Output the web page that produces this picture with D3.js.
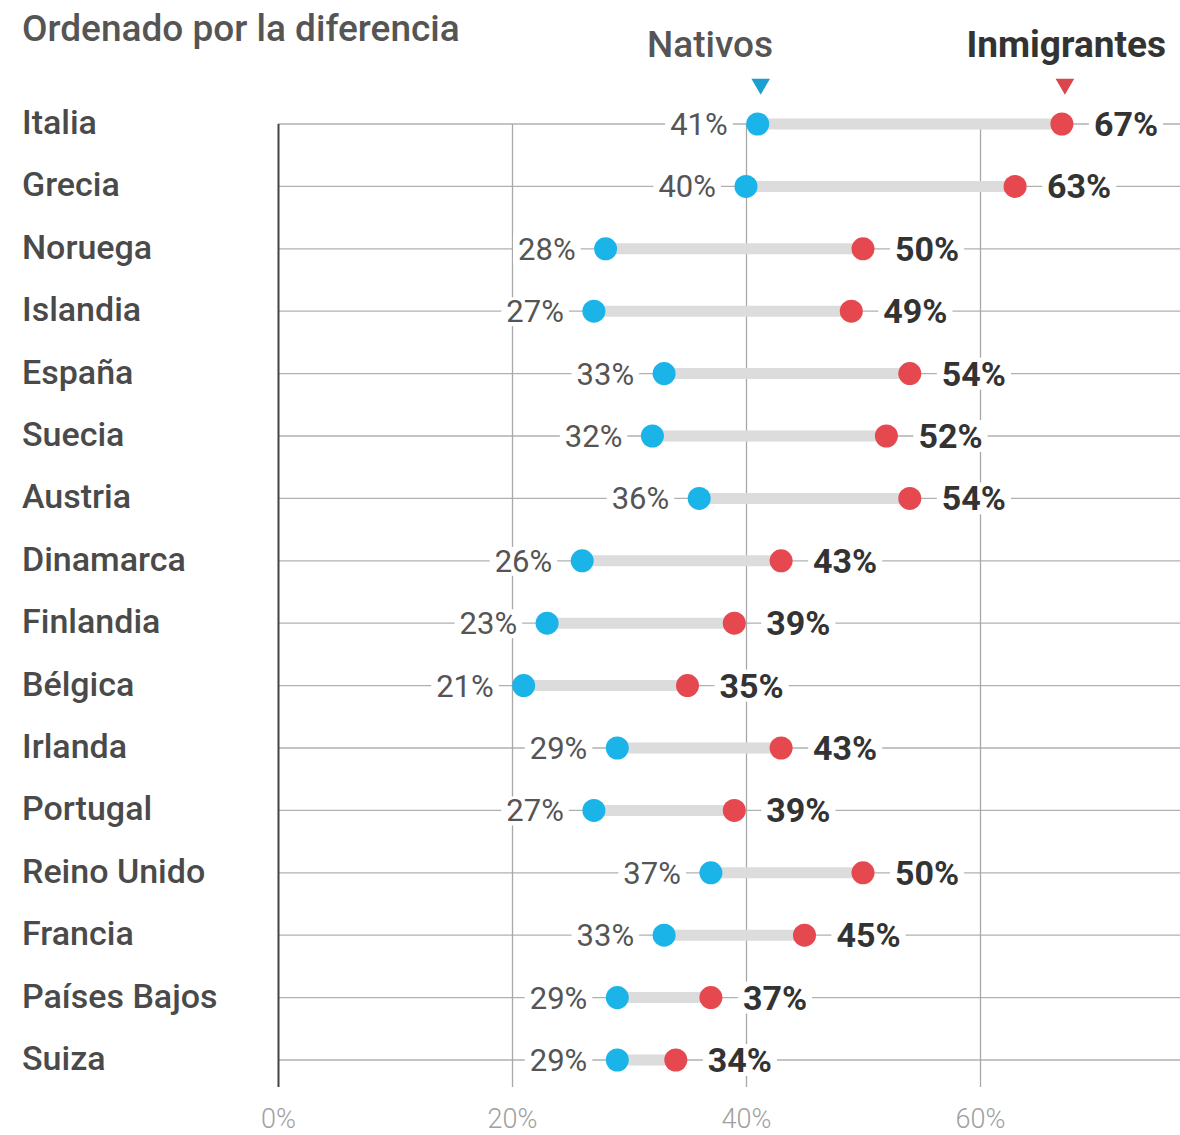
<!DOCTYPE html>
<html>
<head>
<meta charset="utf-8">
<script src="https://cdn.jsdelivr.net/npm/d3@7"></script>
<style>
  body { margin: 0; background: #fff; }
  svg { display: block; font-family: Roboto, "Noto Sans", sans-serif; }
</style>
</head>
<body>
<svg id="chart" width="1180" height="1135"></svg>
<script>
const countries = ["Italia","Grecia","Noruega","Islandia","España","Suecia","Austria","Dinamarca","Finlandia","Bélgica","Irlanda","Portugal","Reino Unido","Francia","Países Bajos","Suiza"];
const nativos = [41,40,28,27,33,32,36,26,23,21,29,27,37,33,29,29];
const inmigrantes = [67,63,50,49,54,52,54,43,39,35,43,39,50,45,37,34];
const xTicks = [0,20,40,60];
const tickLabels = ["0%","20%","40%","60%"];

const data = countries.map((c,i) => ({country: c, nat: nativos[i], inm: inmigrantes[i]}));

const svg = d3.select("#chart");
const BLUE = "#1ab4e8", RED = "#e5484f";

const x = d3.scaleLinear().domain([0, 60]).range([278, 980]);
const y = d3.scalePoint().domain(countries).range([124, 1060]);

// Horizontal gridlines
svg.append("g").selectAll("line").data(data).join("line")
  .attr("x1", x(0)).attr("x2", 1180)
  .attr("y1", d => y(d.country)).attr("y2", d => y(d.country))
  .attr("stroke", "#b0b0b0").attr("stroke-width", 1.3);

// Vertical gridlines via axis
const xAxis = d3.axisBottom(x).tickValues(xTicks).tickFormat((d,i) => tickLabels[i])
  .tickSize(-(1087 - 124)).tickPadding(22);
const ax = svg.append("g").attr("transform", "translate(0,1087)").call(xAxis);
ax.select(".domain").remove();
ax.selectAll(".tick line").attr("stroke", d => d === 0 ? "#444" : "#a8a8a8")
  .attr("stroke-width", d => d === 0 ? 2 : 1.3);
ax.selectAll(".tick text").attr("fill", "#a0a0a0").attr("font-size", 27)
  .attr("font-weight", 300).attr("font-family", "Roboto, sans-serif");

// Connecting bars
svg.append("g").selectAll("line").data(data).join("line")
  .attr("x1", d => x(d.nat)).attr("x2", d => x(d.inm))
  .attr("y1", d => y(d.country)).attr("y2", d => y(d.country))
  .attr("stroke", "#dcdcdc").attr("stroke-width", 11);

// Native labels
const natG = svg.append("g");
const natT = natG.selectAll("text").data(data).join("text")
  .attr("x", d => x(d.nat) - 30).attr("y", d => y(d.country) + 11)
  .attr("text-anchor", "end").attr("font-size", 31).attr("font-weight", 400)
  .attr("fill", "#555").text(d => d.nat + "%");
natT.each(function() {
  const b = this.getBBox();
  natG.insert("rect", "text").attr("x", b.x - 5).attr("y", b.y + 4)
    .attr("width", b.width + 10).attr("height", b.height - 8).attr("fill", "#fff");
});

// Immigrant labels
const inmG = svg.append("g");
const inmT = inmG.selectAll("text").data(data).join("text")
  .attr("x", d => x(d.inm) + 32).attr("y", d => y(d.country) + 12)
  .attr("font-size", 34).attr("font-weight", 700)
  .attr("fill", "#333").text(d => d.inm + "%");
inmT.each(function() {
  const b = this.getBBox();
  inmG.insert("rect", "text").attr("x", b.x - 5).attr("y", b.y + 4)
    .attr("width", b.width + 10).attr("height", b.height - 8).attr("fill", "#fff");
});

// Dots
svg.append("g").selectAll("circle").data(data).join("circle")
  .attr("cx", d => x(d.nat)).attr("cy", d => y(d.country)).attr("r", 11.5).attr("fill", BLUE);
svg.append("g").selectAll("circle").data(data).join("circle")
  .attr("cx", d => x(d.inm)).attr("cy", d => y(d.country)).attr("r", 11.5).attr("fill", RED);

// Country labels
svg.append("g").selectAll("text").data(data).join("text")
  .attr("x", 22).attr("y", d => y(d.country) + 10)
  .attr("font-size", 34).attr("font-weight", 500).attr("fill", "#4a4a4a")
  .text(d => d.country);

// Title
svg.append("text").attr("x", 22).attr("y", 41)
  .attr("font-size", 37).attr("font-weight", 500).attr("fill", "#555")
  .text("Ordenado por la diferencia");

// Legend
const first = data[0];
svg.append("text").attr("x", 710).attr("y", 57).attr("text-anchor", "middle")
  .attr("font-size", 37).attr("font-weight", 500).attr("fill", "#555").text("Nativos");
svg.append("text").attr("x", 1166).attr("y", 57).attr("text-anchor", "end")
  .attr("font-size", 37).attr("font-weight", 700).attr("fill", "#333").text("Inmigrantes");

const tri = d3.symbol().type(d3.symbolTriangle).size(150);
svg.append("path").attr("d", tri())
  .attr("transform", `translate(${x(first.nat) + 3},84) rotate(180)`).attr("fill", "#1a9fd0");
svg.append("path").attr("d", tri())
  .attr("transform", `translate(${x(first.inm) + 3},84) rotate(180)`).attr("fill", "#d9464c");
</script>
</body>
</html>
